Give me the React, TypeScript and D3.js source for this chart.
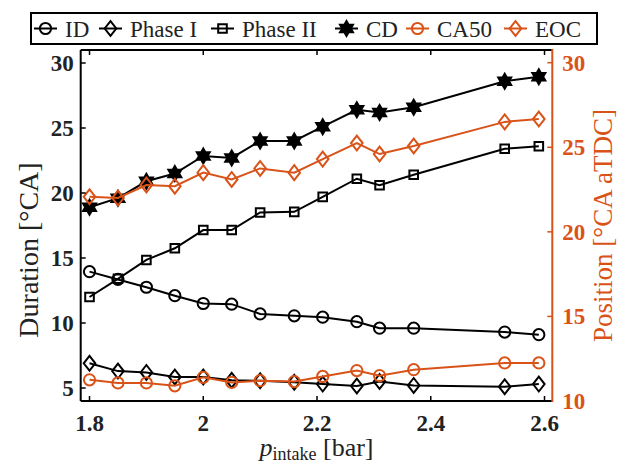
import React from "react";
import * as d3 from "d3";

// Intake pressure [bar]
const pIntake = [1.80, 1.85, 1.90, 1.95, 2.00, 2.05, 2.10, 2.16, 2.21, 2.27, 2.31, 2.37, 2.53, 2.59];
// Durations [°CA] (left axis)
const idDur = [13.95, 13.35, 12.75, 12.1, 11.5, 11.45, 10.7, 10.55, 10.45, 10.1, 9.6, 9.6, 9.3, 9.1];
const phase1 = [6.9, 6.3, 6.2, 5.85, 5.85, 5.6, 5.55, 5.45, 5.3, 5.15, 5.5, 5.2, 5.1, 5.3];
const phase2 = [12.0, 13.4, 14.85, 15.75, 17.15, 17.15, 18.5, 18.55, 19.7, 21.1, 20.6, 21.4, 23.4, 23.6];
const cdDur = [18.9, 19.6, 20.9, 21.5, 22.85, 22.7, 24.0, 24.0, 25.1, 26.4, 26.2, 26.6, 28.6, 28.95];
// Positions [°CA aTDC] (right axis)
const ca50 = [11.25, 11.07, 11.07, 10.9, 11.4, 11.1, 11.2, 11.15, 11.45, 11.8, 11.5, 11.85, 12.25, 12.25];
const eoc = [22.07, 22.0, 22.77, 22.7, 23.5, 23.1, 23.75, 23.5, 24.3, 25.25, 24.6, 25.07, 26.5, 26.67];

const xTicks = [1.8, 2, 2.2, 2.4, 2.6];
const yLeftTicks = [5, 10, 15, 20, 25, 30];
const yRightTicks = [10, 15, 20, 25, 30];

const W = 627;
const H = 465;
const L = 80.7, R = 552.3, T = 50, B = 401;
const ORANGE = "#D95319";
const FONT = "'Liberation Serif', 'Times New Roman', serif";

const x = d3.scaleLinear().domain([1.7845, 2.6137]).range([L, R]);
const yL = d3.scaleLinear().domain([4, 31]).range([B, T]);
const yR = d3.scaleLinear().domain([10, 30.75]).range([B, T]);

type MarkerKind = "circle" | "diamond" | "square" | "hexagram";

function markerPath(kind: MarkerKind): string {
  if (kind === "circle") {
    const r = 5.6;
    return `M${-r},0A${r},${r} 0 1,0 ${r},0A${r},${r} 0 1,0 ${-r},0Z`;
  }
  if (kind === "diamond") {
    const w = 5.8, h = 7.4;
    return `M0,${-h}L${w},0L0,${h}L${-w},0Z`;
  }
  if (kind === "square") {
    const s = 4.3;
    return `M${-s},${-s}H${s}V${s}H${-s}Z`;
  }
  // six-pointed star
  const Ro = 7.5, Ri = Ro / Math.sqrt(3);
  const pts: [number, number][] = [];
  for (let i = 0; i < 12; i++) {
    const a = -Math.PI / 2 + (i * Math.PI) / 6;
    const rr = i % 2 === 0 ? Ro : Ri;
    pts.push([rr * Math.cos(a), rr * Math.sin(a)]);
  }
  return "M" + pts.map((p) => p.join(",")).join("L") + "Z";
}

interface Series {
  name: string;
  values: number[];
  axis: "L" | "R";
  color: string;
  marker: MarkerKind;
}

const series: Series[] = [
  { name: "ID", values: idDur, axis: "L", color: "#000", marker: "circle" },
  { name: "Phase I", values: phase1, axis: "L", color: "#000", marker: "diamond" },
  { name: "Phase II", values: phase2, axis: "L", color: "#000", marker: "square" },
  { name: "CD", values: cdDur, axis: "L", color: "#000", marker: "hexagram" },
  { name: "CA50", values: ca50, axis: "R", color: ORANGE, marker: "circle" },
  { name: "EOC", values: eoc, axis: "R", color: ORANGE, marker: "diamond" },
];

// legend item layout: sample line start and text start
const legendLayout = [
  { lx: 34, tx: 65 },
  { lx: 99, tx: 130 },
  { lx: 211, tx: 242 },
  { lx: 335, tx: 366 },
  { lx: 406, tx: 437 },
  { lx: 504, tx: 535 },
];

function SeriesMarks({ s }: { s: Series }) {
  const yS = s.axis === "L" ? yL : yR;
  const line = d3
    .line<number>()
    .x((_, i) => x(pIntake[i]))
    .y((v) => yS(v));
  const filled = s.marker === "hexagram";
  return (
    <g>
      <path d={line(s.values) ?? ""} fill="none" stroke={s.color} strokeWidth={2} />
      {s.values.map((v, i) => (
        <path
          key={i}
          d={markerPath(s.marker)}
          transform={`translate(${x(pIntake[i])},${yS(v)})`}
          fill={filled ? s.color : "none"}
          stroke={s.color}
          strokeWidth={2}
        />
      ))}
    </g>
  );
}

export default function App() {
  const tickLen = 5;
  return (
    <svg
      width={W}
      height={H}
      style={{ position: "absolute", left: 0, top: 0, background: "#fff" }}
      fontFamily={FONT}
    >
      <rect width={W} height={H} fill="#fff" />

      {/* data */}
      {series.map((s) => (
        <SeriesMarks key={s.name} s={s} />
      ))}

      {/* x ticks (bottom and top) */}
      {xTicks.map((t) => (
        <g key={t}>
          <line x1={x(t)} x2={x(t)} y1={B} y2={B - tickLen} stroke="#000" strokeWidth={1.5} />
          <line x1={x(t)} x2={x(t)} y1={T} y2={T + tickLen} stroke="#000" strokeWidth={1.5} />
          <text x={x(t)} y={431} textAnchor="middle" fontSize={23} fontWeight="bold" fill="#222">
            {d3.format("")(t)}
          </text>
        </g>
      ))}

      {/* left ticks */}
      {yLeftTicks.map((t) => (
        <g key={t}>
          <line x1={L} x2={L + tickLen} y1={yL(t)} y2={yL(t)} stroke="#000" strokeWidth={1.5} />
          <text x={L - 7} y={yL(t)} dy="0.35em" textAnchor="end" fontSize={23} fontWeight="bold" fill="#222">
            {t}
          </text>
        </g>
      ))}

      {/* right ticks */}
      {yRightTicks.map((t) => (
        <g key={t}>
          <line x1={R} x2={R - tickLen} y1={yR(t)} y2={yR(t)} stroke={ORANGE} strokeWidth={1.5} />
          <text x={R + 10} y={yR(t)} dy="0.35em" textAnchor="start" fontSize={23} fontWeight="bold" fill={ORANGE}>
            {t}
          </text>
        </g>
      ))}

      {/* axes box */}
      <line x1={L} x2={R} y1={T} y2={T} stroke="#000" strokeWidth={2} />
      <line x1={L} x2={R} y1={B} y2={B} stroke="#000" strokeWidth={2} />
      <line x1={L} x2={L} y1={T} y2={B} stroke="#000" strokeWidth={2} />
      <line x1={R} x2={R} y1={T - 1} y2={B + 1} stroke={ORANGE} strokeWidth={2} />

      {/* axis titles */}
      <text
        transform={`translate(28,250) rotate(-90)`}
        textAnchor="middle"
        dy="0.35em"
        fontSize={28}
        fill="#222"
      >
        Duration [°CA]
      </text>
      <text
        transform={`translate(603,${(T + B) / 2}) rotate(-90)`}
        textAnchor="middle"
        dy="0.35em"
        fontSize={27}
        fill={ORANGE}
      >
        Position [°CA aTDC]
      </text>
      <text x={(L + R) / 2} y={456} textAnchor="middle" fontSize={26} fill="#222">
        <tspan fontStyle="italic">p</tspan>
        <tspan fontSize={18} dy={4}>intake</tspan>
        <tspan dy={-4}> [bar]</tspan>
      </text>

      {/* legend */}
      <rect x={31} y={13} width={566} height={31} fill="#fff" stroke="#000" strokeWidth={2} />
      {series.map((s, i) => {
        const { lx, tx } = legendLayout[i];
        const cy = 28.5;
        return (
          <g key={s.name}>
            <line x1={lx} x2={lx + 23} y1={cy} y2={cy} stroke={s.color} strokeWidth={2} />
            <path
              d={markerPath(s.marker)}
              transform={`translate(${lx + 11.5},${cy})`}
              fill={s.marker === "hexagram" ? s.color : "none"}
              stroke={s.color}
              strokeWidth={2}
            />
            <text x={tx} y={cy} dy="0.35em" fontSize={23} fill="#222">
              {s.name}
            </text>
          </g>
        );
      })}
    </svg>
  );
}
